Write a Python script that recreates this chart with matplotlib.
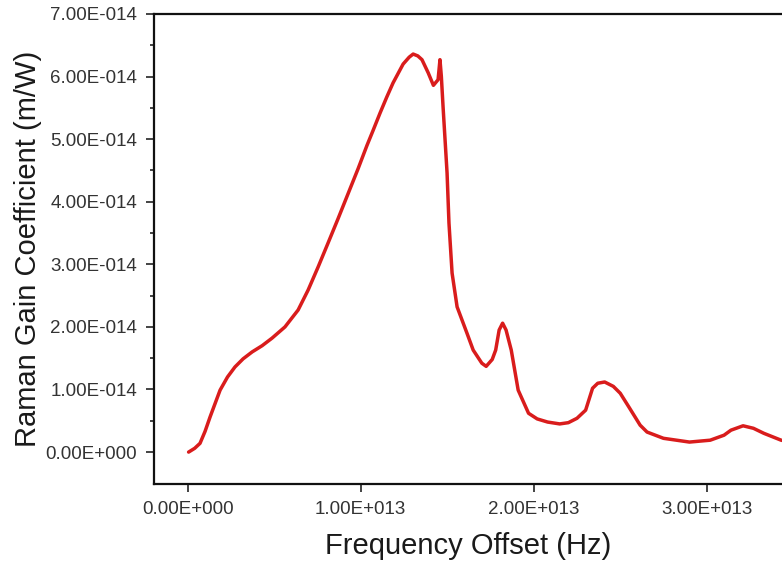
import numpy as np
import matplotlib
matplotlib.use("Agg")
import matplotlib.pyplot as plt
from matplotlib.ticker import FuncFormatter, MultipleLocator, FixedLocator

# Frequency offset (units of 1e13 Hz) and Raman gain coefficient (units of 1e-14 m/W)
freq_e13 = [0.005, 0.04, 0.071, 0.10, 0.129, 0.16, 0.187, 0.23, 0.273, 0.32,
            0.372, 0.43, 0.487, 0.562, 0.638, 0.696, 0.754, 0.811, 0.869, 0.927,
            0.985, 1.036, 1.07, 1.112, 1.15, 1.187, 1.245, 1.28, 1.303, 1.33,
            1.354, 1.39, 1.42, 1.447, 1.458, 1.466, 1.476, 1.499, 1.51, 1.528,
            1.557, 1.614, 1.65, 1.70, 1.725, 1.76, 1.78, 1.80, 1.82, 1.84,
            1.87, 1.91, 1.97, 2.02, 2.08, 2.15, 2.20, 2.25, 2.30, 2.34,
            2.37, 2.41, 2.46, 2.50, 2.55, 2.615, 2.655, 2.75, 2.90, 3.02,
            3.10, 3.14, 3.21, 3.27, 3.33, 3.43, 3.45]
gain_e14 = [0.0, 0.06, 0.14, 0.33, 0.56, 0.79, 0.99, 1.20, 1.36, 1.49,
            1.60, 1.70, 1.82, 2.00, 2.27, 2.59, 2.96, 3.34, 3.73, 4.13,
            4.53, 4.90, 5.13, 5.42, 5.67, 5.90, 6.20, 6.31, 6.36, 6.33,
            6.27, 6.06, 5.86, 5.95, 6.27, 6.00, 5.51, 4.46, 3.66, 2.86,
            2.32, 1.90, 1.63, 1.42, 1.37, 1.48, 1.63, 1.95, 2.06, 1.95,
            1.63, 0.99, 0.62, 0.53, 0.48, 0.45, 0.47, 0.54, 0.67, 1.02,
            1.10, 1.12, 1.05, 0.94, 0.72, 0.43, 0.32, 0.22, 0.16, 0.19,
            0.27, 0.35, 0.42, 0.38, 0.30, 0.19, 0.18]

freq = np.array(freq_e13) * 1e13
gain = np.array(gain_e14) * 1e-14

plt.rcParams['font.family'] = ['Liberation Sans', 'DejaVu Sans']

fig = plt.figure(figsize=(7.82, 5.62), dpi=100)
ax = fig.add_axes([154 / 782, 78 / 562, 1 - 154 / 782, 470 / 562])

ax.plot(freq, gain, color='#d91c1c', lw=2.5, solid_joinstyle='round', solid_capstyle='round')

ax.set_xlim(-0.195e13, 3.435e13)
ax.set_ylim(-0.51e-14, 7.0e-14)


def sci_fmt(v, pos):
    if v == 0:
        return "0.00E+000"
    exp = int(np.floor(np.log10(abs(v)) + 1e-9))
    mant = v / 10 ** exp
    sign = '+' if exp >= 0 else '-'
    return f"{mant:.2f}E{sign}{abs(exp):03d}"


ax.xaxis.set_major_locator(MultipleLocator(1e13))
ax.yaxis.set_major_locator(MultipleLocator(1e-14))
ax.yaxis.set_minor_locator(FixedLocator(np.arange(0.5, 7.0, 1.0) * 1e-14))
ax.xaxis.set_major_formatter(FuncFormatter(sci_fmt))
ax.yaxis.set_major_formatter(FuncFormatter(sci_fmt))

ax.spines['right'].set_visible(False)
for s in ['left', 'bottom', 'top']:
    ax.spines[s].set_linewidth(1.6)
    ax.spines[s].set_color('#111111')

ax.tick_params(axis='both', which='major', direction='out', length=6, width=1.1,
               labelsize=13.5, labelcolor='#333333', color='#111111')
ax.tick_params(axis='y', which='minor', direction='out', length=3, width=1.1, color='#111111')
ax.tick_params(axis='y', which='major', pad=6)
ax.tick_params(axis='x', which='major', pad=6.5)

ax.set_xlabel('Frequency Offset (Hz)', fontsize=21, color='#1a1a1a', labelpad=9.5)
ax.set_ylabel('Raman Gain Coefficient (m/W)', fontsize=21, color='#1a1a1a', labelpad=2.5)

fig.savefig('out.png', dpi=100)
